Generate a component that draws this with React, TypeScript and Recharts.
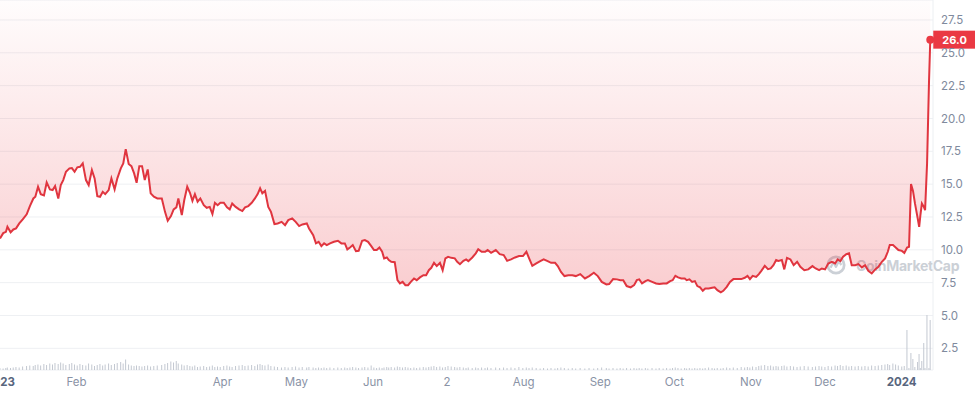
import { Area, Bar, CartesianGrid, ComposedChart, ReferenceDot, XAxis, YAxis } from "recharts";

// days since 1 Jan 2023
const days = [
  0, 1.3, 2.4, 3.0, 4.3, 5.4, 6.5, 7.8, 9.2, 10.8,
  12.1, 13.5, 14.3, 15.4, 16.5, 17.8, 18.9, 20.2, 21.3, 22.3,
  23.6, 24.6, 25.6, 26.7, 28.1, 29.1, 30.2, 31.3, 32.4, 33.5,
  34.8, 35.9, 37.2, 38.3, 39.4, 40.5, 41.6, 42.6, 44.0, 45.1,
  46.4, 47.5, 48.9, 49.9, 50.9, 52.1, 53.2, 54.3, 55.3, 56.4,
  57.5, 58.6, 59.8, 61.0, 62.3, 63.7,
  65.5, 66.8, 67.9, 69.2, 70.3, 71.4, 72.2, 73.6, 74.6, 75.8,
  76.9, 77.9, 78.9, 80.0, 81.1, 82.5, 83.7, 84.9, 86.0, 87.0,
  88.1, 89.2, 90.6, 91.9, 93.0, 94.0, 95.4, 96.8, 98.1, 99.2,
  100.5, 101.9, 103.2, 104.3, 105.3, 106.2, 107.3, 108.6, 109.7, 111.1,
  112.4, 114.0, 115.4, 116.7, 118.3, 119.7, 121.1, 122.4, 124.2, 125.1,
  126.8, 127.9, 129.0, 130.1, 131.2, 132.3, 133.6, 135.2, 136.8, 138.2,
  139.6, 140.6, 141.7, 142.8, 144.1, 145.2, 146.6, 147.7, 149.0, 150.3,
  151.4, 152.5, 153.6, 154.7, 155.5, 156.6, 157.4, 158.4, 159.8, 160.9,
  161.9, 163.0, 164.1, 165.2, 166.3, 167.6, 168.7, 170.0, 171.4, 172.5,
  173.6, 174.6, 175.7, 176.8, 178.1, 179.2, 180.3, 181.4, 182.7, 184.1,
  185.1, 186.2, 187.6, 188.7, 189.6,
  191.2, 192.6, 193.6, 195.0, 196.4, 197.4, 198.8, 200.7, 202.3, 203.9,
  205.3, 206.9, 208.5, 210.1, 211.7, 213.1, 214.2, 215.5, 217.1, 218.7,
  220.1, 221.7, 223.1, 224.7, 225.8, 227.1, 228.5, 230.1, 231.7, 233.1,
  234.9, 236.8, 238.5, 240.4, 242.0, 243.6, 245.5, 246.6, 248.2, 249.8,
  251.1,
  252.3, 253.7, 255.3, 256.7, 257.8, 258.8, 259.9, 261.3, 262.3, 264.0,
  265.6, 266.9, 268.5, 269.9, 271.3, 272.3, 273.4, 274.5, 275.8, 277.2,
  278.0, 279.1, 280.2, 281.3, 282.3, 283.4, 284.5, 285.5, 286.9, 288.3,
  289.3, 290.4, 291.8, 292.8, 294.2, 295.5, 296.9, 298.5, 300.1, 301.5,
  302.6, 303.6, 304.7, 306.1, 307.2, 308.2, 309.6, 310.9, 312.0, 313.1,
  314.2, 315.1,
  316.5, 317.5, 318.6, 320.0, 321.3, 322.7, 324.0, 325.6, 327.2, 328.9,
  330.2, 331.6, 332.7, 334.0, 335.3, 336.7, 338.1, 339.1, 340.2, 341.3,
  342.6, 343.7, 344.8, 346.2, 347.5, 348.9, 350.2, 351.5, 352.9, 354.3,
  355.6, 357.0, 358.3, 359.4, 360.2, 361.5, 362.6, 363.7, 365.1, 366.1,
  367.2, 368.0, 368.8, 369.6, 370.4, 371.5, 372.1, 372.6, 373.2, 374.0,
  374.5, 375.3, 376.1, 376.6,
];

const prices = [
  10.87, 11.27, 11.37, 11.75, 11.33, 11.55, 11.63, 12.01, 12.32, 12.70,
  13.33, 13.91, 14.04, 14.80, 14.24, 14.14, 15.13, 14.60, 14.55, 14.85,
  13.91, 14.93, 15.31, 15.94, 16.20, 16.22, 15.94, 16.28, 16.32, 16.58,
  15.31, 14.93, 16.07, 15.44, 14.09, 14.04, 14.42, 14.24, 14.55, 15.44,
  14.60, 15.44, 16.20, 16.58, 17.67, 16.53, 16.37, 15.82, 15.10, 16.37,
  16.37, 15.31, 16.12, 14.30, 14.04, 13.91,
  13.91, 12.89, 12.21, 12.57, 13.08, 13.23, 13.91, 12.64, 13.79, 14.80,
  14.34, 13.73, 14.24, 13.66, 13.91, 13.40, 13.20, 13.27, 12.72, 13.58,
  13.40, 13.58, 13.58, 13.23, 13.08, 13.53, 13.27, 13.08, 12.95, 13.23,
  13.33, 13.58, 13.91, 14.24, 14.68, 14.30, 14.49, 13.27, 12.89, 11.96,
  12.01, 12.13, 11.88, 12.26, 12.39, 12.13, 11.81, 11.93, 12.01, 11.63,
  11.12, 10.49, 10.61, 10.28, 10.49, 10.36, 10.49, 10.61, 10.69, 10.49,
  10.49, 10.03, 10.18, 10.36, 9.90, 9.92, 10.69, 10.74, 10.61, 10.28,
  9.98, 9.98, 10.18, 9.85, 9.35, 9.42, 9.22, 9.09, 9.06, 7.69,
  7.44, 7.56, 7.31, 7.31, 7.56, 7.82, 7.69, 7.90, 8.07, 8.07,
  8.45, 8.63, 9.01, 8.76, 9.01, 8.45, 9.35, 9.47, 9.39, 9.35,
  9.09, 8.91, 9.16, 9.27, 9.14,
  9.42, 9.73, 10.05, 9.85, 9.85, 9.98, 9.77, 9.98, 9.67, 9.60,
  9.16, 9.27, 9.42, 9.52, 9.52, 9.85, 9.35, 8.78, 8.96, 9.14,
  9.27, 9.14, 9.01, 9.01, 8.76, 8.32, 8.00, 8.07, 8.07, 8.00,
  8.15, 7.82, 8.00, 8.25, 8.00, 7.56, 7.36, 7.39, 7.77, 7.75,
  7.69,
  7.69, 7.24, 7.14, 7.31, 7.69, 7.75, 7.44, 7.62, 7.69, 7.56,
  7.44, 7.39, 7.44, 7.44, 7.62, 7.69, 8.02, 7.90, 7.82, 7.82,
  7.69, 7.75, 7.56, 7.62, 7.24, 7.14, 6.88, 7.06, 7.06, 7.11,
  7.14, 6.93, 6.76, 6.88, 7.18, 7.56, 7.77, 7.77, 7.77, 7.87,
  8.02, 7.77, 8.02, 7.94, 8.15, 8.40, 8.78, 8.53, 8.58, 8.83,
  9.22, 9.16,
  9.22, 8.51, 9.39, 9.27, 8.83, 9.09, 8.71, 8.45, 8.51, 8.76,
  8.58, 8.45, 8.58, 8.51, 8.96, 9.09, 8.96, 9.27, 9.14, 9.47,
  9.67, 9.73, 8.83, 8.83, 8.91, 8.66, 8.83, 8.40, 8.20, 8.51,
  8.71, 9.09, 9.35, 9.85, 10.36, 10.36, 10.18, 9.98, 9.92, 9.77,
  10.18, 10.23, 15.00, 14.49, 13.53, 12.39, 11.75, 12.64, 13.53, 13.27,
  13.02, 16.58, 22.92, 26.0,
];

// volume, millions
const volumes = [
  0.4, 0.3, 0.4, 0.5, 0.4, 0.5, 0.6, 0.5, 0.7, 0.8,
  0.9, 0.8, 1.0, 1.1, 0.9, 1.2, 1.0, 1.3, 1.1, 1.4,
  1.2, 1.5, 1.3, 1.0, 1.2, 1.4, 1.1, 0.9, 1.2, 1.0,
  0.9, 1.3, 1.1, 0.8, 1.0, 1.2, 0.9, 1.1, 1.3, 1.0,
  1.2, 1.4, 1.6, 1.3, 2.1, 1.1, 0.9, 0.8, 0.9, 0.8,
  0.7, 0.8, 0.9, 0.7, 0.8, 0.9,
  1.0, 1.2, 1.4, 1.7, 1.5, 1.8, 1.3, 1.1, 0.9, 1.0,
  0.8, 0.7, 0.9, 0.6, 0.7, 0.8, 0.6, 0.7, 0.9, 0.6,
  0.7, 0.6, 0.8, 0.9, 0.7, 0.6, 0.8, 0.9, 1.0, 0.8,
  0.9, 1.0, 0.8, 1.1, 1.2, 1.0, 0.9, 1.1, 0.8, 0.7,
  0.6, 0.5, 0.6, 0.5, 0.6, 0.7, 0.5, 0.6, 0.5, 0.6,
  0.5, 0.4, 0.5, 0.4, 0.5, 0.4, 0.5, 0.4, 0.5, 0.4,
  0.5, 0.4, 0.5, 0.6, 0.5, 0.4, 0.5, 0.6, 0.5, 0.9,
  0.5, 0.4, 0.5, 0.4, 0.5, 0.6, 0.5, 0.6, 0.5, 0.7,
  0.6, 0.5, 0.6, 0.5, 0.4, 0.5, 0.4, 0.5, 0.6, 0.5,
  0.6, 0.7, 0.8, 0.6, 0.7, 0.5, 0.6, 0.8, 0.7, 0.6,
  0.5, 0.6, 0.5, 0.4, 0.5,
  0.4, 0.5, 0.4, 0.5, 0.4, 0.5, 0.4, 0.5, 0.4, 0.5,
  0.4, 0.5, 0.4, 0.6, 0.4, 0.5, 0.4, 0.5, 0.4, 0.3,
  0.4, 0.3, 0.4, 0.3, 0.4, 0.5, 0.4, 0.3, 0.4, 0.3,
  0.4, 0.3, 0.4, 0.3, 0.4, 0.5, 0.4, 0.3, 0.4, 0.3,
  0.4,
  0.3, 0.4, 0.3, 0.4, 0.3, 0.4, 0.3, 0.4, 0.3, 0.4,
  0.3, 0.4, 0.3, 0.4, 0.3, 0.4, 0.5, 0.4, 0.3, 0.4,
  0.3, 0.4, 0.3, 0.4, 0.3, 0.4, 0.3, 0.4, 0.5, 0.4,
  0.3, 0.4, 0.3, 0.4, 0.5, 0.4, 0.5, 0.4, 0.6, 0.5,
  0.6, 0.5, 0.7, 0.6, 0.8, 0.9, 1.0, 0.8, 0.9, 0.7,
  0.8, 0.7,
  0.8, 0.9, 0.7, 0.8, 0.7, 0.6, 0.7, 0.8, 0.7, 0.6,
  0.7, 0.8, 0.7, 0.6, 0.8, 0.7, 0.9, 0.8, 1.0, 0.8,
  0.9, 0.7, 0.8, 0.7, 0.8, 0.7, 0.8, 0.7, 0.9, 0.8,
  0.9, 1.0, 1.1, 1.2, 1.0, 1.3, 1.1, 0.9, 0.7, 0.8,
  8.0, 0.4, 3.4, 2.2, 0.6, 1.6, 3.2, 0.4, 1.8, 5.4,
  0.4, 11.0, 0.4, 10.0,
];

const priceTicks = [2.5, 5, 7.5, 10, 12.5, 15, 17.5, 20, 22.5, 25, 27.5];
const monthTicks = [0, 31, 90, 120, 151, 181, 212, 243, 273, 304, 334, 365];
const monthLabels = ["2023", "Feb", "Apr", "May", "Jun", "2", "Aug", "Sep", "Oct", "Nov", "Dec", "2024"];
const yearTicks = [0, 365];

const data = days.map((day, i) => ({ day, price: prices[i], volume: volumes[i] }));
const last = data[data.length - 1];

const RED = "#ea3943";
const FONT = "Inter, 'Noto Sans', sans-serif";

function MonthTick({ x, y, payload }: any) {
  const isYear = yearTicks.includes(payload.value);
  return (
    <text
      x={x}
      y={y}
      dy="0.71em"
      textAnchor="middle"
      fontFamily={FONT}
      fontSize={11.5}
      fontWeight={isYear ? 700 : 400}
      fill={isYear ? "#58667e" : "#8a93a6"}
    >
      {monthLabels[monthTicks.indexOf(payload.value)]}
    </text>
  );
}

function PriceTag({ cx, cy }: any) {
  return (
    <g>
      <circle cx={cx} cy={cy} r={4} fill={RED} />
      <rect x={cx + 3} y={cy - 9} width={60} height={18} fill={RED} />
      <text x={cx + 12} y={cy} dy="0.36em" fill="#fff" fontFamily={FONT} fontSize={11} fontWeight={700}>
        {last.price.toFixed(1)}
      </text>
    </g>
  );
}

function Watermark() {
  return (
    <div style={{ position: "absolute", left: 826, top: 253, display: "flex", alignItems: "center", opacity: 0.85 }}>
      <svg width={20} height={24} viewBox="0 0 22 24">
        <circle cx={11} cy={12} r={9} fill="none" stroke="#c3c8d0" strokeWidth={3} />
        <path d="M5 15 L8 9 L11 14 L14 8 L17 12" fill="none" stroke="#c3c8d0" strokeWidth={2.5} strokeLinejoin="round" />
      </svg>
      <span style={{ marginLeft: 10, fontFamily: FONT, fontSize: 14, fontWeight: 700, letterSpacing: -0.3, color: "#c3c8d0" }}>
        CoinMarketCap
      </span>
    </div>
  );
}

export default function App() {
  return (
    <div style={{ position: "absolute", left: 0, top: 0, width: 975, height: 396, overflow: "hidden", background: "#fff" }}>
      <Watermark />
      <div style={{ position: "absolute", left: 0, top: 0 }}>
        <ComposedChart width={975} height={396} data={data} margin={{ top: 0, right: 0, bottom: 0, left: 0 }}>
          <defs>
            <linearGradient id="priceFill" x1="0" y1="0" x2="0" y2="1">
              <stop offset="0%" stopColor={RED} stopOpacity={0.02} />
              <stop offset="100%" stopColor={RED} stopOpacity={0.42} />
            </linearGradient>
          </defs>
          <CartesianGrid yAxisId="price" vertical={false} stroke="#eef0f3" />
          <XAxis
            dataKey="day"
            type="number"
            domain={[0, 377.7]}
            ticks={monthTicks}
            interval={0}
            tick={<MonthTick />}
            axisLine={false}
            tickLine={false}
            height={26}
          />
          <YAxis
            yAxisId="price"
            orientation="right"
            type="number"
            domain={[0.85, 29.02]}
            ticks={priceTicks}
            interval={0}
            tickFormatter={(v: number) => v.toFixed(1)}
            tick={{ fill: "#808a9d", fontSize: 11.5, fontFamily: FONT }}
            axisLine={{ stroke: "#eceff2" }}
            tickLine={false}
            width={42}
          />
          <YAxis yAxisId="vol" hide domain={[0, 74]} />
          <Bar yAxisId="vol" dataKey="volume" barSize={1} fill="#c3c8d1" isAnimationActive={false} />
          <Area
            yAxisId="price"
            type="linear"
            dataKey="price"
            baseValue="dataMax"
            stroke="#e0353f"
            strokeWidth={2}
            fill="url(#priceFill)"
            dot={false}
            activeDot={false}
            isAnimationActive={false}
          />
          <ReferenceDot yAxisId="price" x={last.day} y={last.price} ifOverflow="visible" shape={<PriceTag />} />
        </ComposedChart>
      </div>
    </div>
  );
}
